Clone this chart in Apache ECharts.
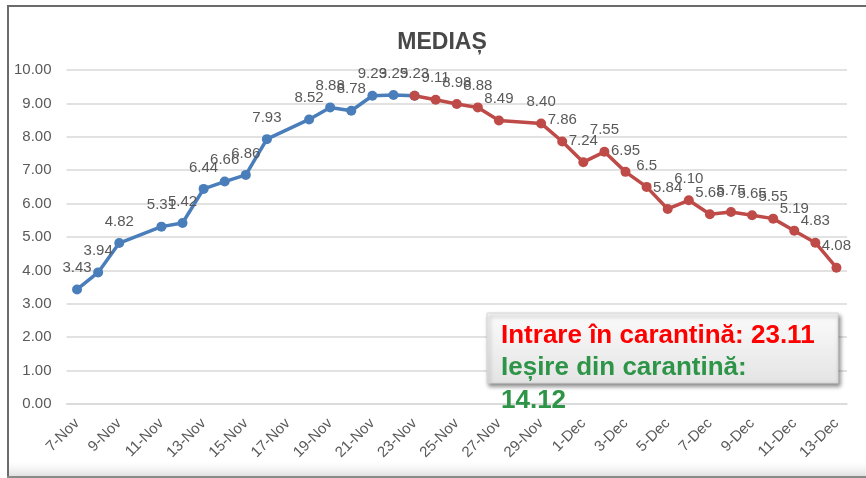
<!DOCTYPE html>
<html>
<head>
<meta charset="utf-8">
<script src="https://cdn.jsdelivr.net/npm/echarts@6/dist/echarts.min.js"></script>
<style>
  html, body { margin: 0; padding: 0; background: #fff; }
  #chart { width: 866px; height: 478px; }
</style>
</head>
<body>
<div id="chart"></div>
<script>
// one category per day, 7-Nov .. 13-Dec
const days = [
  '7-Nov', '8-Nov', '9-Nov', '10-Nov', '11-Nov', '12-Nov', '13-Nov', '14-Nov', '15-Nov', '16-Nov',
  '17-Nov', '18-Nov', '19-Nov', '20-Nov', '21-Nov', '22-Nov', '23-Nov', '24-Nov', '25-Nov', '26-Nov',
  '27-Nov', '28-Nov', '29-Nov', '30-Nov', '1-Dec', '2-Dec', '3-Dec', '4-Dec', '5-Dec', '6-Dec',
  '7-Dec', '8-Dec', '9-Dec', '10-Dec', '11-Dec', '12-Dec', '13-Dec'
]

// before quarantine (blue), missing days are null
const beforeValues = [
  3.43, 3.94, 4.82, null, 5.31, 5.42, 6.44, 6.66, 6.86, 7.93,
  null, 8.52, 8.88, 8.78, 9.23, 9.25, 9.23
]

// during quarantine (red), starts on 23-Nov
const duringValues = [
  null, null, null, null, null, null, null, null, null, null,
  null, null, null, null, null, null, 9.23, 9.11, 8.98, 8.88,
  8.49, null, 8.40, 7.86, 7.24, 7.55, 6.95, 6.5, 5.84, 6.10,
  5.68, 5.75, 5.65, 5.55, 5.19, 4.83, 4.08
]

const blue = '#4a7ebb'
const red = '#be4b48'
const grayText = '#595959'

function fmtLabel(p) {
  const v = p.value
  if (v === null || v === undefined) return ''
  return v === 6.5 ? '6.5' : v.toFixed(2)
}

const chartInstance = echarts.init(document.getElementById('chart'))

const boxFont = 'bold 26px "Liberation Sans"'

const options = {
  animation: false,
  backgroundColor: '#fff',
  title: {
    text: 'MEDIAȘ',
    left: 437,
    top: 26,
    textAlign: 'center',
    textStyle: {
      fontFamily: 'Liberation Sans',
      fontSize: 23,
      fontWeight: 'bold',
      color: '#484848'
    }
  },
  grid: {
    left: 66.5,
    right: 19,
    top: 70,
    bottom: 74,
    containLabel: false
  },
  xAxis: {
    type: 'category',
    data: days,
    boundaryGap: true,
    axisLine: { show: true, lineStyle: { color: '#d9d9d9', width: 1.5 } },
    axisTick: { show: false },
    axisLabel: {
      interval: 1,
      rotate: 45,
      margin: 17,
      color: grayText,
      fontFamily: 'Liberation Sans',
      fontSize: 15
    },
    splitLine: { show: false }
  },
  yAxis: {
    type: 'value',
    min: 0,
    max: 10,
    interval: 1,
    axisLine: { show: false },
    axisTick: { show: false },
    axisLabel: {
      margin: 15,
      color: grayText,
      fontFamily: 'Liberation Sans',
      fontSize: 15,
      formatter: v => v.toFixed(2)
    },
    splitLine: { lineStyle: { color: '#d9d9d9', width: 1.5 } }
  },
  series: [
    {
      type: 'line',
      data: beforeValues,
      connectNulls: true,
      symbol: 'circle',
      symbolSize: 10,
      lineStyle: { color: blue, width: 3.5 },
      itemStyle: { color: blue },
      label: {
        show: true,
        position: 'top',
        distance: 9,
        color: grayText,
        fontFamily: 'Liberation Sans',
        fontSize: 15,
        formatter: fmtLabel
      }
    },
    {
      type: 'line',
      data: duringValues.map((v, i) => (i === 16 ? { value: v, label: { show: false } } : v)),
      connectNulls: true,
      symbol: 'circle',
      symbolSize: 10,
      lineStyle: { color: red, width: 3.5 },
      itemStyle: { color: red },
      label: {
        show: true,
        position: 'top',
        distance: 9,
        color: grayText,
        fontFamily: 'Liberation Sans',
        fontSize: 15,
        formatter: fmtLabel
      }
    }
  ],
  graphic: [
    // chart frame
    { type: 'line', z: 50, shape: { x1: 7, y1: 6, x2: 866, y2: 6 }, style: { stroke: '#6b6b6b', lineWidth: 2 } },
    { type: 'line', z: 50, shape: { x1: 8, y1: 6, x2: 8, y2: 477 }, style: { stroke: '#6b6b6b', lineWidth: 2 } },
    { type: 'line', z: 50, shape: { x1: 7, y1: 477, x2: 866, y2: 477 }, style: { stroke: '#8a8a8a', lineWidth: 2 } },
    {
      type: 'rect',
      shape: { x: 9, y: 462, width: 857, height: 14 },
      style: {
        fill: new echarts.graphic.LinearGradient(0, 0, 0, 1, [
          { offset: 0, color: 'rgba(240,240,240,0)' },
          { offset: 1, color: 'rgba(225,225,225,1)' }
        ])
      },
      z: -1
    },
    // note box
    {
      type: 'rect',
      z: 100,
      shape: { x: 487, y: 313, width: 351, height: 70 },
      style: {
        fill: new echarts.graphic.LinearGradient(0, 0, 0, 1, [
          { offset: 0, color: '#fbfbfb' },
          { offset: 1, color: '#e4e4e4' }
        ]),
        stroke: '#d6d6d6',
        lineWidth: 1,
        shadowBlur: 4,
        shadowOffsetX: 2,
        shadowOffsetY: 3,
        shadowColor: 'rgba(0,0,0,0.45)'
      }
    },
    {
      type: 'text',
      z: 101,
      x: 501,
      y: 323,
      style: { text: 'Intrare în carantină: 23.11', fill: '#ff0000', font: boxFont }
    },
    {
      type: 'text',
      z: 101,
      x: 501,
      y: 355,
      style: { text: 'Ieșire din carantină:', fill: '#2e9447', font: boxFont }
    },
    {
      type: 'text',
      z: 101,
      x: 501,
      y: 388,
      style: { text: '14.12', fill: '#2e9447', font: boxFont }
    }
  ]
}

chartInstance.setOption(options)
</script>
</body>
</html>
